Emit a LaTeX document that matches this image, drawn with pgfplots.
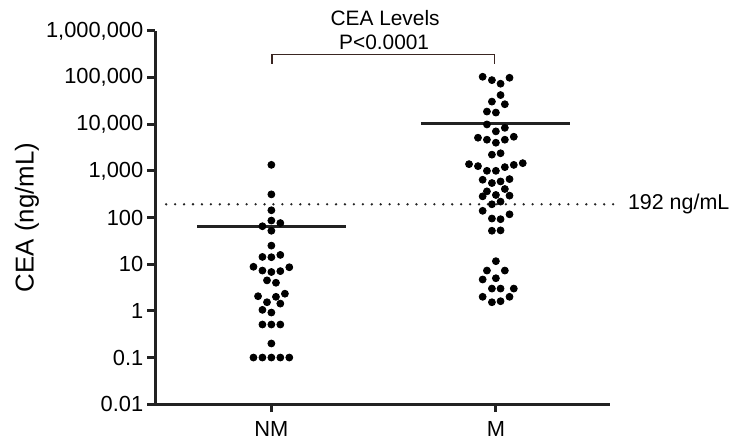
\documentclass[border=0pt]{standalone}
\usepackage{fontspec}
\setmainfont{Liberation Sans}
\usepackage{pgfplots}
\pgfplotsset{compat=1.18}
\definecolor{axisgray}{HTML}{222222}
\definecolor{bracketc}{HTML}{3A2622}
\newcommand{\lbl}{\fontsize{11}{13}\selectfont}

% one pixel of the reference = 0.5pt; x data are reference pixels
\begin{document}
\begin{tikzpicture}
\begin{axis}[
  scale only axis,
  width=228.5pt, height=188pt,
  xmin=156, xmax=613,
  ymode=log, ymin=0.01, ymax=1e6,
  axis x line=bottom, axis y line=left,
  axis line style={-, line width=1.5pt, color=axisgray},
  every tick/.style={line width=1.5pt, color=axisgray},
  tick align=outside, major tick length=4pt,
  xtick={272.7,498.3}, xticklabels={NM, M},
  ytick={0.01,0.1,1,10,100,1000,10000,100000,1000000},
  yticklabels={0.01,0.1,1,10,100,{1,000},{10,000},{100,000},{1,000,000}},
  minor ytick={}, yminorticks=false,
  /pgf/number format/assume math mode=true,
  ticklabel style={font=\lbl, text=black},
  xticklabel style={yshift=-1pt},
  yticklabel style={xshift=1.5pt},
  clip=false,
]
% NM
\addplot[only marks, mark=*, mark size=1.75pt, color=black] coordinates {
  (272.7,1343) (272.7,313) (272.7,143)
  (272.7,86) (281.7,76) (263.7,65)
  (272.7,52) (272.7,25)
  (263.7,14.3) (272.7,14.1) (281.7,15.8)
  (254.7,8.8) (263.7,7.3) (272.7,6.8) (281.7,7.1) (290.7,8.6)
  (268.3,4.5) (277.3,4.0)
  (259.3,2.06) (277.3,2.0) (286.3,2.33)
  (268.3,1.53) (281.7,1.43)
  (263.7,1.05) (272.7,0.92)
  (263.7,0.51) (272.7,0.51) (281.7,0.51)
  (272.7,0.2)
  (254.7,0.1) (263.7,0.1) (272.7,0.1) (281.7,0.1) (290.7,0.1)
};
% M
\addplot[only marks, mark=*, mark size=1.75pt, color=black] coordinates {
  (485,103500) (494.3,87700) (503,73500) (512,98600)
  (503,42000)
  (494.3,30400) (507.3,26700)
  (489.3,18600) (498.3,17700)
  (489.3,9860)
  (498.3,7000) (507.3,8340)
  (480.3,5120) (489.3,4640) (498.3,4000) (507.3,4640) (516.3,5370)
  (494.3,2220) (503,2380)
  (471.3,1390) (480.3,1260) (489.3,1000) (498.3,1000) (507.3,1200) (516.3,1340) (525.3,1460)
  (485,644) (494.3,547) (503,592) (512,665)
  (489.3,363) (507.3,408) (485,284) (498.3,304) (512,294)
  (494.3,192) (503,219)
  (485,139) (494.3,95) (503,92) (512,117)
  (494.3,52) (503,53)
  (498.3,11.6)
  (489.3,7.3) (507.3,7.3)
  (485,4.7) (498.3,5.0)
  (494.3,3.0) (503,3.0) (516.3,3.0)
  (485,2.0) (494.3,1.53) (503,1.61) (512,2.0)
};
% medians
\addplot[line width=1.6pt, color=axisgray] coordinates {(198,65) (348,65)};
\addplot[line width=1.6pt, color=axisgray] coordinates {(423,10500) (573,10500)};
% cut-off
\addplot[line width=1.3pt, line cap=round, dash pattern=on 0pt off 4.5pt, color=axisgray]
  coordinates {(167,192) (617,192)};
\node[anchor=west, font=\fontsize{10.8}{13}\selectfont] at (axis cs:624,192) {192 ng/mL};

% significance bracket
\draw[line width=0.8pt, color=bracketc]
  (axis cs:273.5,199000) -- (axis cs:273.5,308000) -- (axis cs:497,308000) -- (axis cs:497,199000);
\node[font=\fontsize{10.5}{12}\selectfont] at (axis cs:387,1.89e6) {CEA Levels};
\node[font=\fontsize{10.5}{12}\selectfont] at (axis cs:386,5.8e5) {P<0.0001};

% y label
\node[rotate=90, font=\fontsize{13}{15}\selectfont] at (axis cs:27,100) {CEA (ng/mL)};

% page = reference frame
\path (axis cs:0,4.566e6) rectangle (axis cs:736,0.001342);
\end{axis}
\end{tikzpicture}
\end{document}
